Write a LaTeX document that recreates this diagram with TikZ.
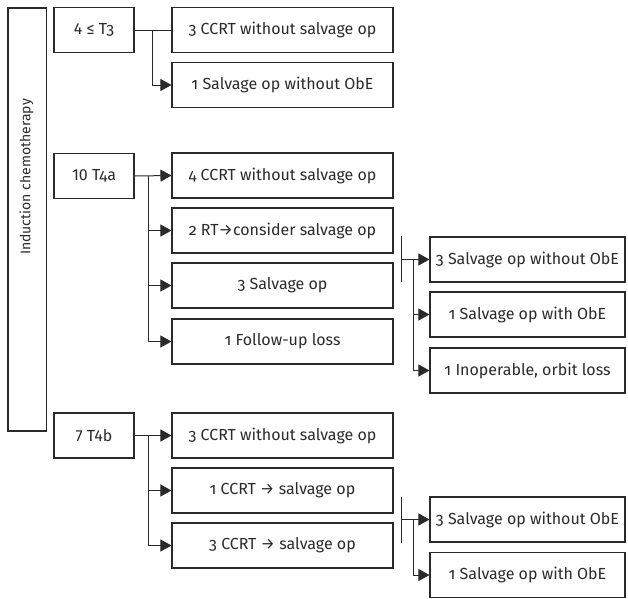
\documentclass[tikz,border=0pt]{standalone}
\usepackage{fontspec}
\setmainfont[Numbers=OldStyle]{Fira Sans}
\newcommand{\lnum}[1]{{\addfontfeatures{Numbers=Lining}#1}}
\usetikzlibrary{arrows.meta,calc}
\definecolor{ink}{HTML}{2A2A2A}
\begin{document}
\begin{tikzpicture}[x=1pt,y=-1pt,
  box/.style={draw=ink,line width=1.1pt,inner sep=0pt,align=center,text=ink,font=\fontsize{16}{18}\selectfont},
  mid/.style={box,minimum width=221pt,minimum height=45pt},
  rgt/.style={box,minimum width=195pt,minimum height=45pt},
  cat/.style={box,minimum width=80pt,minimum height=45pt},
  ln/.style={draw=ink,line width=1pt},
  arr/.style={ln,-{Triangle[length=11pt,width=12pt]}}]
\useasboundingbox (0,0) rectangle (628,598);
% left tall box
\node[draw=ink,line width=1.1pt,minimum width=38.5pt,minimum height=423pt,inner sep=0pt] (ic) at (27.25,219.5) {};
\node[rotate=90,font=\fontsize{14}{16}\selectfont,text=ink] (ict) at (26.5,177) {Induction chemotherapy};
% categories
\node[cat] (t3) at (94,30) {\lnum{4} ≤ T3};
\node[cat] (t4a) at (94,176) {\lnum{10} T4a};
\node[cat] (t4b) at (94,435.5) {\lnum{7 T4b}};
% middle boxes
\node[mid] (a1) at (282.5,30) {3 CCRT without salvage op};
\node[mid] (a2) at (282.5,85) {1 Salvage op without ObE};
\node[mid] (b1) at (282.5,175.5) {4 CCRT without salvage op};
\node[mid] (b2) at (282.5,230.5) {2 RT→consider salvage op};
\node[mid] (b3) at (282.5,285.5) {3 Salvage op};
\node[mid] (b4) at (282.5,341.5) {1 Follow-up loss};
\node[mid] (c1) at (282.5,435.5) {3 CCRT without salvage op};
\node[mid] (c2) at (282.5,490.5) {1 CCRT → salvage op};
\node[mid] (c3) at (282.5,545.5) {3 CCRT → salvage op};
% right boxes
\node[rgt] (e1) at (527.5,259.5) {3 Salvage op without ObE};
\node[rgt] (e2) at (527.5,314.5) {1 Salvage op with ObE};
\node[rgt] (e3) at (527.5,370.5) {1 Inoperable, orbit loss};
\node[rgt] (f1) at (527.5,519.5) {3 Salvage op without ObE};
\node[rgt] (f2) at (527.5,575) {1 Salvage op with ObE};
% T3 connectors
\coordinate (j1) at (152,30);
\draw[ln] (t3.east) -- (a1.west);
\draw[arr] (j1) |- (a2.west);
% T4a connectors
\coordinate (j2) at (148,176);
\draw[arr] (t4a.east) -- (b1.west);
\draw[arr] (j2) |- (b2.west);
\draw[arr] (j2) |- (b3.west);
\draw[arr] (j2) |- (b4.west);
% T4b connectors
\coordinate (j3) at (148,435.5);
\draw[arr] (t4b.east) -- (c1.west);
\draw[arr] (j3) |- (c2.west);
\draw[arr] (j3) |- (c3.west);
% bracket 1
\coordinate (k1t) at (401,236);
\coordinate (k1b) at (401,282);
\coordinate (k1m) at (401,259.5);
\coordinate (k1j) at (413,259.5);
\draw[ln] (k1t) -- (k1b);
\draw[arr] (k1m) -- (e1.west);
\draw[arr] (k1j) |- (e2.west);
\draw[arr] (k1j) |- (e3.west);
% bracket 2
\coordinate (k2t) at (401,497);
\coordinate (k2b) at (401,543);
\coordinate (k2m) at (401,519.5);
\coordinate (k2j) at (413,519.5);
\draw[ln] (k2t) -- (k2b);
\draw[arr] (k2m) -- (f1.west);
\draw[arr] (k2j) |- (f2.west);
\end{tikzpicture}
\end{document}
